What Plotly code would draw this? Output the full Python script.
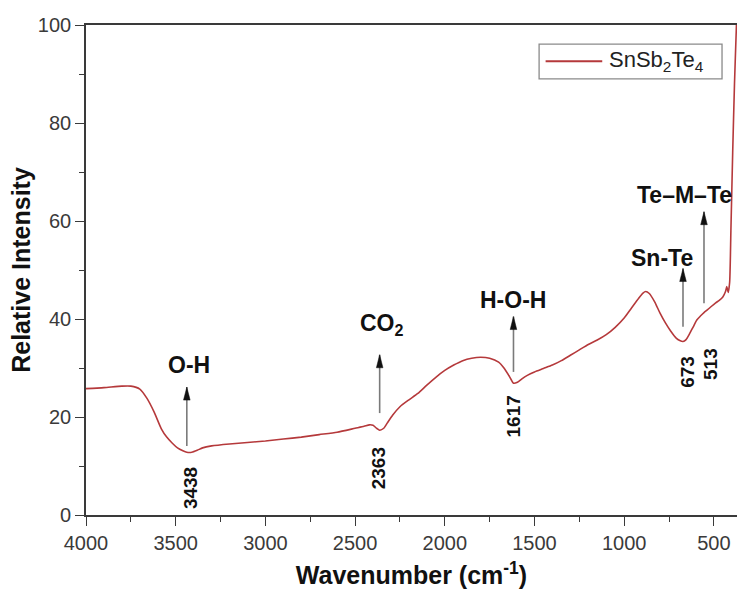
import plotly.graph_objects as go

# FTIR spectrum of SnSb2Te4
wavenumber = [4000, 3900, 3800, 3750, 3700, 3660, 3620, 3580, 3550, 3520, 3490, 3460, 3438,
              3410, 3380, 3350, 3300, 3200, 3100, 3000, 2900, 2800, 2700, 2600, 2500,
              2450, 2420, 2400, 2380, 2363, 2340, 2320, 2290, 2250, 2200, 2150, 2100,
              2050, 2000, 1950, 1900, 1850, 1800, 1750, 1700, 1670, 1640, 1617, 1595,
              1570, 1540, 1500, 1450, 1400, 1350, 1300, 1250, 1200, 1150, 1100, 1050,
              1000, 960, 920, 895, 880, 860, 830, 800, 770, 740, 710, 690, 672, 655,
              635, 615, 595, 575, 555, 535, 513, 490, 470, 450, 435, 428, 420, 412,
              405, 395, 385, 375, 368]
intensity = [25.8, 26.0, 26.3, 26.3, 25.7, 23.8, 21.0, 17.6, 15.9, 14.7, 13.7, 13.1, 12.8,
             12.8, 13.2, 13.7, 14.1, 14.5, 14.8, 15.1, 15.5, 15.9, 16.4, 16.9, 17.7,
             18.1, 18.4, 18.3, 17.7, 17.3, 17.7, 18.8, 20.4, 22.1, 23.5, 24.8, 26.5,
             28.1, 29.5, 30.6, 31.5, 32.0, 32.2, 32.0, 31.2, 30.0, 28.3, 26.9, 27.1,
             27.8, 28.5, 29.2, 29.9, 30.6, 31.5, 32.6, 33.7, 34.8, 35.7, 36.8, 38.3,
             40.2, 42.2, 44.2, 45.3, 45.6, 45.2, 43.5, 41.2, 39.2, 37.5, 36.1, 35.6,
             35.4, 35.8, 37.0, 38.4, 39.8, 40.6, 41.3, 41.9, 42.6, 43.3, 43.8, 44.5,
             45.6, 46.6, 45.4, 47.5, 58.0, 74.0, 88.0, 99.0, 106.0]

# band assignments: arrow position, arrow tail / head heights, label text and centre
band_pos = [3438, 2363, 1617, 672, 555]
arrow_tail = [14.1, 20.8, 29.2, 38.4, 43.2]
arrow_head = [26.1, 32.7, 40.5, 50.3, 61.9]
band_names = ["O-H", "CO<sub>2</sub>", "H-O-H", "Sn-Te", "Te–M–Te"]
name_x = [3424, 2350, 1617, 790, 666]
name_y = [30.6, 38.9, 43.9, 52.4, 65.3]

# peak positions written vertically under each band
peak_labels = ["3438", "2363", "1617", "673", "513"]
peak_x = [3420, 2365, 1617, 645, 522]
peak_y = [5.5, 9.6, 20.2, 29.2, 30.8]

AXIS = "#3a3a3a"
CURVE = "#b5393b"

fig = go.Figure()
fig.add_trace(go.Scatter(
    x=wavenumber, y=intensity, mode="lines", name="SnSb<sub>2</sub>Te<sub>4</sub>",
    line=dict(color=CURVE, width=1.6, shape="spline", smoothing=0.6),
    showlegend=False,
))

shapes = []
for xp, t, h in zip(band_pos, arrow_tail, arrow_head):
    # grey shaft
    shapes.append(dict(type="line", xref="x", yref="y", x0=xp, x1=xp, y0=t, y1=h,
                       line=dict(color="#7a7a7a", width=1.6)))
    # narrow black head, sized in pixels around the tip
    shapes.append(dict(type="path", xref="x", yref="y", xsizemode="pixel", ysizemode="pixel",
                       xanchor=xp, yanchor=h, path="M-3.3,-13 L3.3,-13 L0,0 Z",
                       fillcolor="#111111", line=dict(color="#111111", width=0.5)))

annotations = []
for nm, nx, ny in zip(band_names, name_x, name_y):
    annotations.append(dict(x=nx, y=ny, text="<b>" + nm + "</b>", showarrow=False,
                            xanchor="center", yanchor="middle",
                            font=dict(family="Liberation Sans", size=23, color="#111111")))
for lab, xp, yp in zip(peak_labels, peak_x, peak_y):
    annotations.append(dict(x=xp, y=yp, text="<b>" + lab + "</b>", showarrow=False,
                            textangle=-90,
                            font=dict(family="Liberation Sans", size=19, color="#111111")))

# legend box
shapes.append(dict(type="rect", xref="paper", yref="paper", x0=0.696, x1=0.977, y0=0.890, y1=0.961,
                   line=dict(color="#8a8a8a", width=1.3), fillcolor="white", layer="below"))
shapes.append(dict(type="line", xref="paper", yref="paper", x0=0.706, x1=0.793, y0=0.926, y1=0.926,
                   line=dict(color=CURVE, width=2.2)))
annotations.append(dict(xref="paper", yref="paper", x=0.800, y=0.926, xanchor="left",
                        yanchor="middle", showarrow=False,
                        text="SnSb<sub>2</sub>Te<sub>4</sub>",
                        font=dict(family="Liberation Sans", size=22, color="#222222")))

fig.update_layout(
    width=737, height=592,
    margin=dict(l=86, r=0, t=25, b=77),
    paper_bgcolor="white", plot_bgcolor="white",
    font=dict(family="Liberation Sans", color="#333333"),
    shapes=shapes, annotations=annotations,
    xaxis=dict(
        range=[4000, 371], tickvals=[4000, 3500, 3000, 2500, 2000, 1500, 1000, 500],
        ticks="outside", ticklen=9, tickwidth=1.4, tickcolor=AXIS,
        minor=dict(dtick=250, ticks="outside", ticklen=5, tickcolor=AXIS, tickwidth=1.3),
        showline=True, linecolor=AXIS, linewidth=1.6, mirror=True,
        showgrid=False, zeroline=False,
        tickfont=dict(size=20, color="#3a3a3a"),
        title=dict(text="<b>Wavenumber (cm<sup>-1</sup>)</b>", font=dict(size=25, color="#111111"),
                   standoff=14),
    ),
    yaxis=dict(
        range=[0, 100], tickvals=[0, 20, 40, 60, 80, 100],
        ticks="outside", ticklen=9, tickwidth=1.4, tickcolor=AXIS,
        minor=dict(dtick=10, ticks="outside", ticklen=5, tickcolor=AXIS, tickwidth=1.3),
        showline=True, linecolor=AXIS, linewidth=1.6, mirror=False,
        showgrid=False, zeroline=False,
        tickfont=dict(size=20, color="#3a3a3a"),
        title=dict(text="<b>Relative Intensity</b>", font=dict(size=25, color="#111111"),
                   standoff=0),
    ),
)

fig.write_html("out.html")
